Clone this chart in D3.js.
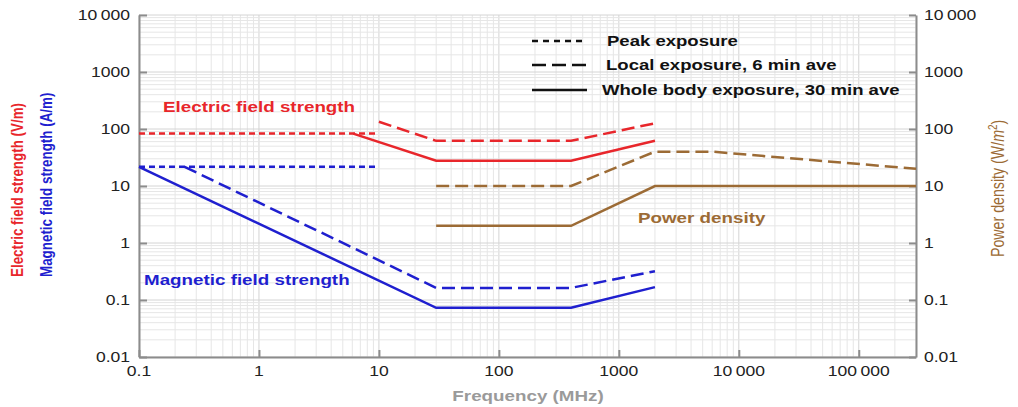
<!DOCTYPE html>
<html>
<head>
<meta charset="utf-8">
<script src="https://cdn.jsdelivr.net/npm/d3@7"></script>
<style>
  body { margin: 0; background: #fff; }
  svg { display: block; font-family: "Liberation Sans", Arial, sans-serif; }
</style>
</head>
<body>
<svg></svg>
<script>
// tick values and labels
let freqTicks = [0.1, 1, 10, 100, 1000, 10000, 100000]
let freqTickLabels = ['0.1', '1', '10', '100', '1000', '10\u2009000', '100\u2009000']
let valueTicks = [0.01, 0.1, 1, 10, 100, 1000, 10000]
let valueTickLabels = ['0.01', '0.1', '1', '10', '100', '1000', '10\u2009000']

// series, [frequency MHz, value]
let ePeak = [[0.1, 83], [10, 83]]
let eLocal = [[10, 134], [30, 62], [400, 62], [2000, 126]]
let eWhole = [[6.1, 83], [30, 27.7], [400, 27.7], [2000, 62]]
let hPeak = [[0.1, 21.7], [10, 21.7]]
let hLocal = [[0.24, 21.7], [30, 0.163], [400, 0.163], [2000, 0.32]]
let hWhole = [[0.1, 21.7], [30, 0.073], [400, 0.073], [2000, 0.168]]
let sLocal = [[30, 10], [400, 10], [2000, 40], [6000, 40], [300000, 20]]
let sWhole = [[30, 2], [400, 2], [2000, 10], [300000, 10]]

let legendLabels = ['Peak exposure', 'Local exposure, 6 min ave', 'Whole body exposure, 30 min ave']

let w = 1018
let h = 407
let plotLeft = 139, plotRight = 916, plotTop = 15, plotBottom = 357
let sx = 1.27 // the source picture is stretched sideways

let red = '#e8262b'
let blue = '#1f1fcf'
let brown = '#9c6b35'
let dotted = '6,4'
let dashed = '13,6'

let svg = d3.select('svg').attr('width', w).attr('height', h)

let xScale = d3.scaleLog().domain([0.1, 300000]).range([plotLeft, plotRight])
let yScale = d3.scaleLog().domain([0.01, 10000]).range([plotBottom, plotTop])

// stretched text helper
let addText = (x, y, str, o) => {
    let t = svg.append('text')
        .attr('transform', 'translate(' + x + ',' + y + ') scale(' + sx + ',1)' + (o.rotate ? ' rotate(-90)' : ''))
        .attr('text-anchor', o.anchor || 'start')
        .attr('font-size', o.size || 14)
        .attr('font-weight', o.bold ? 'bold' : 'normal')
        .attr('fill', o.color || '#222')
    if (o.dy) t.attr('dy', o.dy)
    if (str !== null) t.text(str)
    return t
}

// grid
let xMinor = []
let yMinor = []
for (let e = -1; e <= 5; e++) {
    for (let m = 1; m <= 9; m++) {
        let v = m * Math.pow(10, e)
        if (v <= 300000) xMinor.push(v)
    }
}
for (let e = -2; e <= 4; e++) {
    for (let m = 1; m <= 9; m++) {
        let v = m * Math.pow(10, e)
        if (v <= 10000) yMinor.push(v)
    }
}

let grid = svg.append('g')
grid.selectAll('.gx')
    .data(xMinor)
    .enter()
    .append('line')
    .attr('x1', d => xScale(d)).attr('x2', d => xScale(d))
    .attr('y1', plotTop).attr('y2', plotBottom)
    .attr('stroke', d => freqTicks.includes(d) ? '#d4d4d4' : '#e6e6e6')
    .attr('stroke-width', 1)
grid.selectAll('.gy')
    .data(yMinor)
    .enter()
    .append('line')
    .attr('x1', plotLeft).attr('x2', plotRight)
    .attr('y1', d => yScale(d)).attr('y2', d => yScale(d))
    .attr('stroke', d => valueTicks.includes(d) ? '#d4d4d4' : '#e6e6e6')
    .attr('stroke-width', 1)

// axes
let axisColor = '#8c8c8c'
let xAxis = svg.append('g')
    .attr('transform', 'translate(0,' + plotBottom + ')')
    .call(d3.axisBottom(xScale).tickValues(freqTicks).tickSizeInner(-7).tickSizeOuter(0).tickFormat(''))
let yAxisL = svg.append('g')
    .attr('transform', 'translate(' + plotLeft + ',0)')
    .call(d3.axisLeft(yScale).tickValues(valueTicks).tickSizeInner(-8).tickSizeOuter(0).tickFormat(''))
let yAxisR = svg.append('g')
    .attr('transform', 'translate(' + plotRight + ',0)')
    .call(d3.axisRight(yScale).tickValues(valueTicks).tickSizeInner(-7).tickSizeOuter(0).tickFormat(''))
;[xAxis, yAxisL, yAxisR].forEach(a => {
    a.select('.domain').attr('stroke', axisColor).attr('stroke-width', 2)
    a.selectAll('.tick line').attr('stroke', axisColor).attr('stroke-width', 2)
})

// tick labels
freqTicks.forEach((v, i) => addText(xScale(v), 376, freqTickLabels[i], { anchor: 'middle', size: 13.8 }))
valueTicks.forEach((v, i) => {
    addText(130, yScale(v), valueTickLabels[i], { anchor: 'end', size: 13.8, dy: '0.36em' })
    addText(924, yScale(v), valueTickLabels[i], { anchor: 'start', size: 13.8, dy: '0.36em' })
})

// series lines
let line = d3.line().x(d => xScale(d[0])).y(d => yScale(d[1]))
let series = [
    { data: ePeak, color: red, dash: dotted },
    { data: eLocal, color: red, dash: dashed },
    { data: eWhole, color: red, dash: null },
    { data: hPeak, color: blue, dash: dotted },
    { data: hLocal, color: blue, dash: dashed },
    { data: hWhole, color: blue, dash: null },
    { data: sLocal, color: brown, dash: dashed },
    { data: sWhole, color: brown, dash: null }
]
svg.selectAll('.series')
    .data(series)
    .enter()
    .append('path')
    .attr('d', d => line(d.data))
    .attr('fill', 'none')
    .attr('stroke', d => d.color)
    .attr('stroke-width', 2.5)
    .attr('stroke-dasharray', d => d.dash)

// series labels
addText(163, 112, 'Electric field strength', { size: 14.8, bold: true, color: red })
addText(144, 285, 'Magnetic field strength', { size: 14.8, bold: true, color: blue })
addText(638, 223, 'Power density', { size: 14.8, bold: true, color: brown })

// legend
let legendDash = ['6,5', '14,6', null]
legendLabels.forEach((lab, i) => {
    let y = [41, 65, 90][i]
    svg.append('line')
        .attr('x1', 532).attr('x2', 587)
        .attr('y1', y).attr('y2', y)
        .attr('stroke', '#111')
        .attr('stroke-width', 2.5)
        .attr('stroke-dasharray', legendDash[i])
    addText([607, 606, 602][i], y + 4.5, lab, { size: 14.6, bold: true, color: '#111' })
})

// axis titles
addText(528, 401, 'Frequency (MHz)', { anchor: 'middle', size: 14.8, bold: true, color: '#9a9a9a' })
addText(23, 277, 'Electric field strength (V/m)', { rotate: true, size: 13.4, bold: true, color: red })
addText(52, 277, 'Magnetic field strength (A/m)', { rotate: true, size: 13.4, bold: true, color: blue })

let pd = addText(1004, 257, null, { rotate: true, size: 14.2, color: brown })
pd.append('tspan').text('Power density (W/')
pd.append('tspan').attr('font-style', 'italic').text('m')
pd.append('tspan').attr('font-size', 10).attr('baseline-shift', 'super').text('2')
pd.append('tspan').text(')')
</script>
</body>
</html>
